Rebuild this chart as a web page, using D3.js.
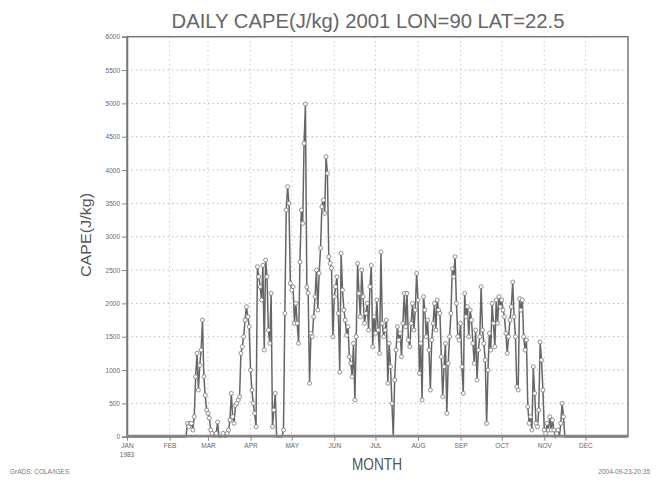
<!DOCTYPE html>
<html>
<head>
<meta charset="utf-8">
<script src="https://cdn.jsdelivr.net/npm/d3@7"></script>
<style>
  body { margin: 0; background: #fff; }
  svg { display: block; font-family: "Liberation Sans", Arial, sans-serif; }
</style>
</head>
<body>
<div class="chart"></div>
<script>
// month labels and the day index where each month starts
const months = ['JAN','FEB','MAR','APR','MAY','JUN','JUL','AUG','SEP','OCT','NOV','DEC'];
const monthStart = [0, 31, 59, 90, 120, 151, 181, 212, 243, 273, 304, 334];
const yTicks = [0, 500, 1000, 1500, 2000, 2500, 3000, 3500, 4000, 4500, 5000, 5500, 6000];

// daily CAPE (J/kg), one value per day
const cape = [
  0,0,0,0,0,0,0,0,0,0,
  0,0,0,0,0,0,0,0,0,0,
  0,0,0,0,0,0,0,0,0,0,
  0,0,0,0,0,0,0,0,0,0,
  0,0,0,0,200,150,200,200,100,300,
  900,1250,700,1070,1300,1750,900,620,400,350,
  280,100,50,0,0,50,220,0,0,0,
  50,0,0,50,100,250,650,300,200,470,
  500,550,600,1250,1350,1500,1750,1950,1800,1650,
  1000,700,500,350,150,2550,2400,2250,2050,2570,
  1300,2650,2400,1600,1400,2150,150,400,650,0,
  0,0,0,0,100,1850,3400,3750,3500,2300,
  2200,2250,1700,2000,1700,1400,2620,3400,3200,4400,
  4990,2245,2155,800,1550,1500,1800,2100,2500,1900,
  2450,2830,3450,3550,3350,4200,3950,2700,2600,2530,
  1500,2100,2250,2400,1850,970,2750,2200,1900,1750,
  1520,1650,1200,1100,900,1400,550,1500,2600,2150,
  1800,2500,2100,1700,1850,2000,1600,2250,2570,1350,
  1800,1550,2050,1600,1250,2770,1700,1500,1600,1750,
  800,1400,1050,500,0,850,1300,1650,1450,1550,
  1200,1700,2150,1650,2150,1450,1350,1700,2000,1600,
  1900,2450,2050,950,1400,550,2100,1900,1500,1750,
  1300,700,1450,1700,2000,1600,2050,1900,1850,1200,
  600,1050,1400,350,1100,1500,1850,2520,2400,2700,
  2000,1500,1450,1700,1050,650,2150,1800,1950,1500,
  1900,1750,1400,1100,1600,850,1300,1500,2250,1600,
  1400,1150,200,1000,1550,1300,2000,1700,1350,2050,
  1700,2100,1950,2050,1900,1800,1550,1250,1500,1750,
  1950,2320,1800,1500,750,700,2070,1900,2050,1500,
  1300,1450,450,200,300,100,1050,650,200,150,
  400,1420,1150,700,100,50,200,100,300,100,
  250,100,0,50,100,0,200,500,300,0,
  0,0,0,0,0,0,0,0,0,0,
  0,0,0,0,0,0,0,0,0,0,
  0,0,0,0,0,0,0,0,0,0,
  0,0,0,0,0,0,0,0,0,0,
  0,0,0,0,0
];

const width = 656, height = 484;
const plotL = 127, plotR = 628, plotT = 36.7, plotB = 436.7;

const x = d3.scaleLinear().domain([0, 365]).range([plotL, plotR]);
const y = d3.scaleLinear().domain([0, 6000]).range([plotB, plotT]);

const svg = d3.select('.chart').append('svg')
  .attr('width', width)
  .attr('height', height);

// dotted grid
svg.append('g').selectAll('line')
  .data(yTicks.filter(d => d > 0 && d < 6000))
  .join('line')
  .attr('x1', plotL).attr('x2', plotR)
  .attr('y1', d => y(d)).attr('y2', d => y(d))
  .attr('stroke', '#bbb').attr('stroke-width', 1)
  .attr('stroke-dasharray', '1.5,3');

svg.append('g').selectAll('line')
  .data(monthStart.slice(1))
  .join('line')
  .attr('x1', d => x(d)).attr('x2', d => x(d))
  .attr('y1', plotT).attr('y2', plotB)
  .attr('stroke', '#ccc').attr('stroke-width', 1)
  .attr('stroke-dasharray', '1.5,3');

// frame
svg.append('rect')
  .attr('x', plotL).attr('y', plotT)
  .attr('width', plotR - plotL).attr('height', plotB - plotT)
  .attr('fill', 'none').attr('stroke', '#777').attr('stroke-width', 1.5);

// y axis
const yAxis = d3.axisLeft(y).tickValues(yTicks).tickSize(5).tickPadding(2)
  .tickFormat(d3.format('d'));
const gy = svg.append('g').attr('transform', `translate(${plotL},0)`).call(yAxis);
gy.select('.domain').attr('stroke', '#777').attr('stroke-width', 1.5);
gy.selectAll('.tick line').attr('stroke', '#888');
gy.selectAll('.tick text')
  .attr('font-size', 6.5).attr('fill', '#666');

// x axis
const xAxis = d3.axisBottom(x).tickValues(monthStart).tickSize(4).tickPadding(3)
  .tickFormat((d, i) => months[i]);
const gx = svg.append('g').attr('transform', `translate(0,${plotB})`).call(xAxis);
gx.select('.domain').remove();
gx.selectAll('.tick line').attr('stroke', '#888');
gx.selectAll('.tick text')
  .attr('font-size', 6.5).attr('fill', '#666');

svg.append('text')
  .attr('x', x(0)).attr('y', plotB + 20)
  .attr('text-anchor', 'middle')
  .attr('font-size', 6.5).attr('fill', '#666')
  .text('1983');

// series
const line = d3.line().x((d, i) => x(i)).y(d => y(d));

svg.append('path')
  .datum(cape)
  .attr('d', line)
  .attr('fill', 'none')
  .attr('stroke', '#666')
  .attr('stroke-width', 1.5);

// thick zero line, as the markers at zero merge into it
svg.append('line')
  .attr('x1', plotL).attr('x2', plotR)
  .attr('y1', plotB - 1).attr('y2', plotB - 1)
  .attr('stroke', '#888').attr('stroke-width', 2);

svg.append('g').selectAll('circle')
  .data(cape.map((v, i) => [i, v]).filter(d => d[1] > 0))
  .join('circle')
  .attr('cx', d => x(d[0]))
  .attr('cy', d => y(d[1]))
  .attr('r', 2)
  .attr('fill', '#fff')
  .attr('stroke', '#777')
  .attr('stroke-width', 0.8);

// titles
svg.append('text')
  .attr('x', 368).attr('y', 28)
  .attr('text-anchor', 'middle')
  .attr('font-size', 20).attr('fill', '#666')
  .attr('textLength', 393).attr('lengthAdjust', 'spacingAndGlyphs')
  .text('DAILY CAPE(J/kg) 2001 LON=90 LAT=22.5');

svg.append('text')
  .attr('transform', 'translate(91,235) rotate(-90)')
  .attr('text-anchor', 'middle')
  .attr('font-size', 14).attr('fill', '#555')
  .attr('textLength', 84).attr('lengthAdjust', 'spacingAndGlyphs')
  .text('CAPE(J/kg)');

svg.append('text')
  .attr('x', 377).attr('y', 470)
  .attr('text-anchor', 'middle')
  .attr('font-size', 16).attr('fill', '#555')
  .attr('textLength', 50).attr('lengthAdjust', 'spacingAndGlyphs')
  .text('MONTH');

svg.append('text')
  .attr('x', 10).attr('y', 474)
  .attr('font-size', 6.5).attr('fill', '#777')
  .text('GrADS: COLA/IGES');

svg.append('text')
  .attr('x', 650).attr('y', 474)
  .attr('text-anchor', 'end')
  .attr('font-size', 6.5).attr('fill', '#777')
  .text('2004-09-23-20:35');
</script>
</body>
</html>
